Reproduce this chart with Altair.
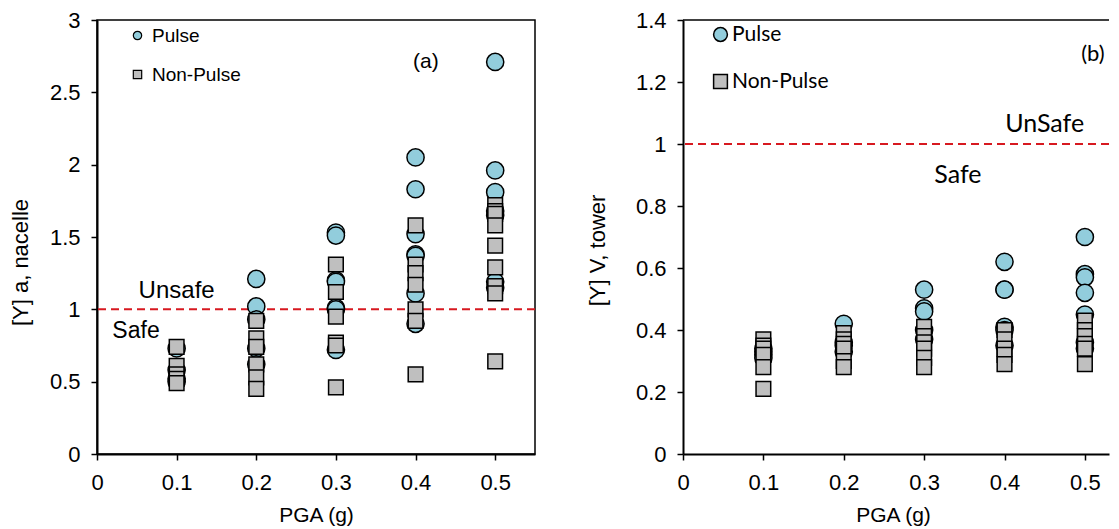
import altair as alt
import pandas as pd

# ---------------- data ----------------
series_names = ["Pulse", "Non-Pulse"]

# Panel (a): [Y] a, nacelle
a_pulse_pga = [0.1]*4 + [0.2]*5 + [0.3]*7 + [0.4]*7 + [0.5]*7
a_pulse_val = [0.73, 0.58, 0.52, 0.50,
               1.21, 1.02, 0.93, 0.73, 0.62,
               1.53, 1.51, 1.20, 1.19, 1.01, 1.00, 0.72,
               2.05, 1.83, 1.52, 1.38, 1.37, 1.11, 0.90,
               2.71, 1.96, 1.81, 1.68, 1.65, 1.19, 1.15]
a_non_pga = [0.1]*5 + [0.2]*6 + [0.3]*6 + [0.4]*7 + [0.5]*9
a_non_val = [0.74, 0.61, 0.55, 0.52, 0.49,
             0.92, 0.80, 0.74, 0.62, 0.53, 0.45,
             1.31, 1.12, 0.95, 0.77, 0.75, 0.46,
             1.58, 1.31, 1.25, 1.17, 1.00, 0.92, 0.55,
             1.72, 1.68, 1.66, 1.58, 1.44, 1.29, 1.16, 1.11, 0.64]

# Panel (b): [Y] V, tower
b_pulse_pga = [0.1]*4 + [0.2]*4 + [0.3]*5 + [0.4]*6 + [0.5]*7
b_pulse_val = [0.34, 0.33, 0.32, 0.31,
               0.42, 0.36, 0.35, 0.33,
               0.53, 0.47, 0.46, 0.40, 0.37,
               0.62, 0.53, 0.53, 0.41, 0.40, 0.35,
               0.70, 0.58, 0.57, 0.52, 0.45, 0.36, 0.34]
b_non_pga = [0.1]*6 + [0.2]*6 + [0.3]*6 + [0.4]*5 + [0.5]*6
b_non_val = [0.37, 0.35, 0.34, 0.32, 0.28, 0.21,
             0.39, 0.37, 0.355, 0.34, 0.30, 0.28,
             0.41, 0.38, 0.36, 0.34, 0.31, 0.28,
             0.40, 0.37, 0.34, 0.32, 0.29,
             0.43, 0.40, 0.38, 0.355, 0.34, 0.29]

x_ticks = [0, 0.1, 0.2, 0.3, 0.4, 0.5]
a_y_ticks = [0, 0.5, 1, 1.5, 2, 2.5, 3]
b_y_ticks = [0, 0.2, 0.4, 0.6, 0.8, 1.0, 1.2, 1.4]

threshold = [1.0]

a_notes_text = ["Unsafe", "Safe", "(a)"]
a_notes_x = [0.10, 0.049, 0.413]
a_notes_y = [1.124, 0.848, 2.71]
a_notes_size = [24, 23, 21]

b_notes_text = ["UnSafe", "Safe", "(b)"]
b_notes_x = [0.450, 0.342, 0.510]
b_notes_y = [1.065, 0.901, 1.29]
b_notes_size = [25, 25, 22]

# ---------------- build tables ----------------
def table(pp, pv, npg, nv):
    return pd.DataFrame({
        "pga": list(pp) + list(npg),
        "val": list(pv) + list(nv),
        "series": ["Pulse"] * len(pp) + ["Non-Pulse"] * len(npg),
    })

df_a = table(a_pulse_pga, a_pulse_val, a_non_pga, a_non_val)
df_b = table(b_pulse_pga, b_pulse_val, b_non_pga, b_non_val)

ARIAL = "Liberation Sans"
CAL = "Lato"
RED = "#D71920"
fill_scale = alt.Scale(domain=series_names, range=["#92CDDC", "#BFBFBF"])
shape_scale = alt.Scale(domain=series_names, range=["circle", "square"])
stroke_scale = alt.Scale(domain=series_names, range=["black", "black"])


def panel(df, xmax, ymax, yticks, ytitle, title_x, title_y, legend, xtitle_x):
    x = alt.X("pga:Q", scale=alt.Scale(domain=[0, xmax], nice=False, zero=True),
              axis=alt.Axis(values=x_ticks, format="~g", title="PGA (g)",
                            titleX=xtitle_x, titleY=50, titleBaseline="top"))
    y = alt.Y("val:Q", scale=alt.Scale(domain=[0, ymax], nice=False),
              axis=alt.Axis(values=yticks, format="~g", title=ytitle,
                            titleX=title_x, titleY=title_y, titleBaseline="middle",
                            titleAngle=270, titleFontSize=22))
    fill = alt.Fill("series:N", scale=fill_scale, legend=legend)
    shape = alt.Shape("series:N", scale=shape_scale, legend=legend)
    stroke = alt.Stroke("series:N", scale=stroke_scale, legend=legend)

    base = alt.Chart(df).encode(x=x, y=y, fill=fill, shape=shape, stroke=stroke)
    pulse = base.transform_filter(alt.datum.series == "Pulse").mark_point(
        filled=True, size=295, strokeWidth=1.5, opacity=1)
    non = base.transform_filter(alt.datum.series == "Non-Pulse").mark_point(
        filled=True, size=215, strokeWidth=1.5, opacity=1)
    rule = alt.Chart(pd.DataFrame({"t": threshold})).mark_rule(
        color=RED, strokeWidth=2, strokeDash=[8, 5]).encode(y=alt.Y("t:Q"))
    return pulse, non, rule


legend_a = alt.Legend(orient="none", legendX=31, legendY=6, title=None,
                      labelFont=ARIAL, labelFontSize=19, labelColor="black",
                      symbolSize=70, symbolStrokeWidth=1.2,
                      symbolOpacity=1, rowPadding=19, labelOffset=5)
legend_b = alt.Legend(orient="none", legendX=27, legendY=4, title=None,
                      labelFont=CAL, labelFontSize=21, labelColor="black",
                      symbolSize=190, symbolStrokeWidth=1.5,
                      symbolOpacity=1, rowPadding=25, labelOffset=1)

pa, na, ra = panel(df_a, 0.55, 3, a_y_ticks, "[Y]  a, nacelle", -77, 242, legend_a, 219)
notes_a = pd.DataFrame({"text": a_notes_text, "x": a_notes_x, "y": a_notes_y, "s": a_notes_size})
txt_a = alt.Chart(notes_a).mark_text(font=ARIAL, color="black", align="center",
                                     baseline="middle").encode(
    x="x:Q", y="y:Q", text="text:N", size=alt.Size("s:Q", scale=None, legend=None))
chart_a = alt.layer(ra, pa, na, txt_a).properties(width=438, height=435)

pb, nb, rb = panel(df_b, 0.53, 1.4, b_y_ticks, "[Y]  V, tower", -86, 230, legend_b, 210)
top_b = alt.Chart(pd.DataFrame({"t": [1.4]})).mark_rule(
    color="black", strokeWidth=1.5).encode(y=alt.Y("t:Q"))
notes_b = pd.DataFrame({"text": b_notes_text, "x": b_notes_x, "y": b_notes_y, "s": b_notes_size})
txt_b = alt.Chart(notes_b).mark_text(font=CAL, color="black",
                                     align="center", baseline="middle").encode(
    x="x:Q", y="y:Q", text="text:N", size=alt.Size("s:Q", scale=None, legend=None))
chart_b = alt.layer(rb, top_b, pb, nb, txt_b).properties(
    width=426, height=434, view=alt.ViewBackground(stroke="transparent"))

chart_a = chart_a.properties(height=434)

chart = alt.hconcat(chart_a, chart_b, spacing=148, bounds="flush").resolve_scale(
    fill="independent", shape="independent", stroke="independent").resolve_legend(
    fill="independent", shape="independent", stroke="independent").properties(
    padding={"left": 0, "top": 0, "right": 0, "bottom": 0}
).configure(font=ARIAL).configure_view(stroke="black", strokeWidth=1.5).configure_axis(
    grid=False, domainColor="black", domainWidth=2, tickColor="black", tickWidth=1.5,
    tickSize=6, labelFont=ARIAL, labelFontSize=22, labelColor="black",
    titleFont=ARIAL, titleFontSize=21, titleColor="black", titleFontWeight="normal",
    labelPadding=11, labelFlush=False, labelOverlap=False
).configure_axisBottom(labelPadding=12)

chart.save("out.html", embed_options={"renderer": "svg", "actions": False})
